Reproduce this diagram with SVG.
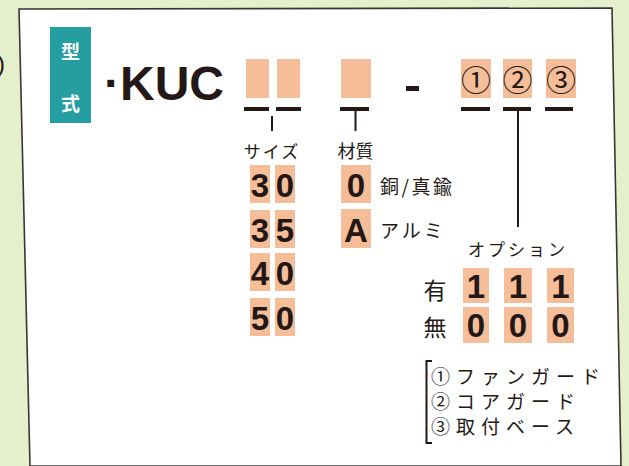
<svg xmlns="http://www.w3.org/2000/svg" width="629" height="466" viewBox="0 0 629 466">
<style>
.pk{fill:#f6bd99}
.bar{fill:#231815}
.stem{stroke:#231815;stroke-width:2;fill:none}
.jp{font-family:"Noto Sans CJK JP","Noto Sans",sans-serif;fill:#231815}
.dg{font-family:"Liberation Sans",Arial,sans-serif;font-weight:bold;fill:#231815;text-anchor:middle}
</style>
<rect x="0" y="0" width="629" height="466" fill="#e5efcc"/>
<text x="-3" y="72" font-family="Liberation Sans,sans-serif" font-size="24" fill="#231815">)</text>
<polygon points="19,9 612,8 621,466 30,466" fill="#ffffff" stroke="#3a3533" stroke-width="1.6"/>
<g id="label-katashiki">
<rect x="50" y="27" width="41" height="96" fill="#249ea1"/>
<text class="jp" x="70.5" y="59" font-size="19" font-weight="bold" text-anchor="middle" style="fill:#ffffff">型</text>
<text class="jp" x="70.5" y="111" font-size="19" font-weight="bold" text-anchor="middle" style="fill:#ffffff">式</text>
</g>
<g id="model">
<text x="104" y="100" font-family="Liberation Sans,Arial,sans-serif" font-weight="bold" font-size="48" fill="#231815">·KUC</text>
</g>
<g id="slots">
<rect class="pk" x="246" y="59" width="23" height="39"/>
<rect class="pk" x="277" y="59" width="23" height="39"/>
<rect class="pk" x="341" y="59" width="30" height="39"/>
<rect class="bar" x="406" y="86" width="13" height="5"/>
<rect class="pk" x="461" y="59" width="30" height="39"/>
<rect class="pk" x="503" y="59" width="29" height="39"/>
<rect class="pk" x="546" y="59" width="30" height="39"/>
<text class="jp" x="476" y="91" font-size="30" text-anchor="middle">①</text>
<text class="jp" x="517.5" y="91" font-size="30" text-anchor="middle">②</text>
<text class="jp" x="561" y="91" font-size="30" text-anchor="middle">③</text>
</g>
<g id="connectors">
<rect class="bar" x="244" y="107" width="25" height="4"/>
<rect class="bar" x="276" y="107" width="25" height="4"/>
<rect class="bar" x="340" y="107" width="29" height="4"/>
<rect class="bar" x="461" y="107" width="29" height="4"/>
<rect class="bar" x="503" y="107" width="28" height="4"/>
<rect class="bar" x="545" y="107" width="28" height="4"/>
<line class="stem" x1="272" y1="116" x2="272" y2="131"/>
<line class="stem" x1="355.5" y1="110" x2="355.5" y2="131"/>
<line class="stem" x1="518" y1="110" x2="518" y2="227"/>
</g>
<g id="size">
<text class="jp" x="272" y="158" font-size="17" text-anchor="middle" letter-spacing="2">サイズ</text>
<rect class="pk" x="250" y="165" width="20" height="38"/>
<rect class="pk" x="275" y="165" width="20" height="38"/>
<rect class="pk" x="250" y="210" width="20" height="38"/>
<rect class="pk" x="275" y="210" width="20" height="38"/>
<rect class="pk" x="250" y="253" width="20" height="38"/>
<rect class="pk" x="275" y="253" width="20" height="38"/>
<rect class="pk" x="250" y="298" width="20" height="38"/>
<rect class="pk" x="275" y="298" width="20" height="38"/>
<text class="dg" x="260" y="197" font-size="33">3</text>
<text class="dg" x="285" y="197" font-size="33">0</text>
<text class="dg" x="260" y="242" font-size="33">3</text>
<text class="dg" x="285" y="242" font-size="33">5</text>
<text class="dg" x="260" y="285" font-size="33">4</text>
<text class="dg" x="285" y="285" font-size="33">0</text>
<text class="dg" x="260" y="330" font-size="33">5</text>
<text class="dg" x="285" y="330" font-size="33">0</text>
</g>
<g id="material">
<text class="jp" x="355.5" y="158" font-size="18" text-anchor="middle">材質</text>
<rect class="pk" x="341" y="165" width="30" height="38"/>
<rect class="pk" x="341" y="209" width="30" height="39"/>
<text class="dg" x="356" y="197" font-size="33">0</text>
<text class="dg" x="356" y="242" font-size="33">A</text>
<text class="jp" x="380" y="194" font-size="19" letter-spacing="2.5">銅/真鍮</text>
<text class="jp" x="380" y="238" font-size="19" letter-spacing="3">アルミ</text>
</g>
<g id="option">
<text class="jp" x="468" y="256" font-size="17" letter-spacing="3">オプション</text>
<text class="jp" x="435" y="299" font-size="23" text-anchor="middle">有</text>
<text class="jp" x="435" y="336" font-size="23" text-anchor="middle">無</text>
<rect class="pk" x="463" y="268" width="26" height="35"/>
<rect class="pk" x="504" y="268" width="28" height="35"/>
<rect class="pk" x="547" y="268" width="27" height="35"/>
<rect class="pk" x="463" y="307" width="26" height="36"/>
<rect class="pk" x="504" y="307" width="28" height="36"/>
<rect class="pk" x="547" y="307" width="27" height="36"/>
<text class="dg" x="476" y="298" font-size="33">1</text>
<text class="dg" x="518" y="298" font-size="33">1</text>
<text class="dg" x="560.5" y="298" font-size="33">1</text>
<text class="dg" x="476" y="337" font-size="33">0</text>
<text class="dg" x="518" y="337" font-size="33">0</text>
<text class="dg" x="560.5" y="337" font-size="33">0</text>
</g>
<g id="legend">
<path d="M432,361 H426.5 V443 H432" class="stem" stroke-width="2.5"/>
<text class="jp" x="431" y="384" font-size="19" letter-spacing="6">①ファンガード</text>
<text class="jp" x="431" y="409" font-size="19" letter-spacing="6">②コアガード</text>
<text class="jp" x="431" y="434" font-size="19" letter-spacing="6">③取付ベース</text>
</g>
</svg>
